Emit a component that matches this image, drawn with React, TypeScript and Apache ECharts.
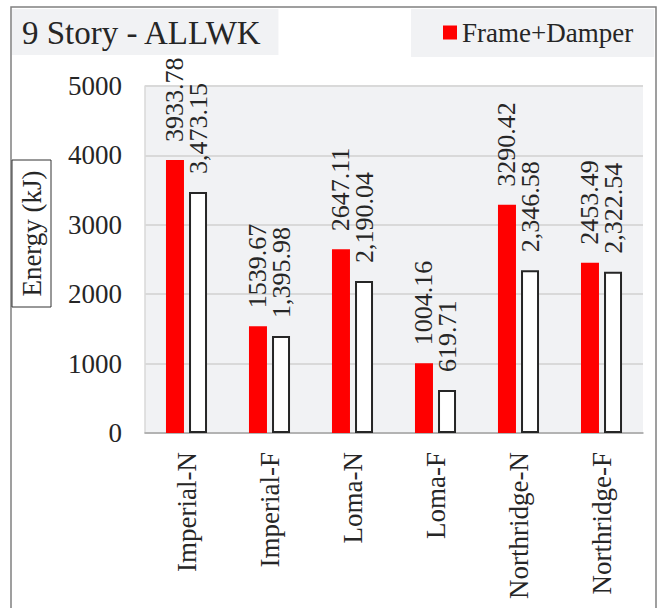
import React, { useEffect, useRef } from "react";
import * as echarts from "echarts";

const categories = ["Imperial-N", "Imperial-F", "Loma-N", "Loma-F", "Northridge-N", "Northridge-F"];
const frameDamper = [3933.78, 1539.67, 2647.11, 1004.16, 3290.42, 2453.49];
const frameOnly = [3473.15, 1395.98, 2190.04, 619.71, 2346.58, 2322.54];
const yMin = 0;
const yMax = 5000;
const yStep = 1000;
const titleText = "9 Story - ALLWK";
const yAxisTitle = "Energy (kJ)";
const seriesNames = ["Frame+Damper", "Frame"];

const FONT = "Liberation Serif";
const TXT = "#262626";
const PANEL = "#f1f2f4";

export default function App() {
  const ref = useRef<HTMLDivElement>(null);
  useEffect(() => {
    if (!ref.current) return;
    const chart = echarts.init(ref.current, undefined, { renderer: "svg" });
    const fmtPlain = (v: number) => v.toFixed(2);
    const fmtComma = (v: number) =>
      v.toLocaleString("en-US", { minimumFractionDigits: 2, maximumFractionDigits: 2 });
    const barLabel = (fmt: (v: number) => string) => ({
      show: true,
      position: "top",
      distance: 18,
      rotate: 90,
      align: "left",
      verticalAlign: "middle",
      fontFamily: FONT,
      fontSize: 26,
      fontWeight: "normal",
      color: TXT,
      formatter: (p: any) => "{s|" + fmt(p.value) + "}",
      rich: {
        s: { fontFamily: FONT, fontSize: 26, color: TXT, fontWeight: "normal" },
      },
    });
    chart.setOption({
      animation: false,
      backgroundColor: "#ffffff",
      textStyle: { fontFamily: FONT, color: TXT },
      title: {
        text: titleText,
        left: 12,
        top: 9,
        backgroundColor: PANEL,
        padding: [7, 16, 6, 10],
        textStyle: { fontFamily: FONT, fontSize: 33, fontWeight: "normal", color: TXT, lineHeight: 33 },
      },
      legend: {
        data: [seriesNames[0]],
        left: 411,
        top: 9,
        width: 245,
        backgroundColor: PANEL,
        padding: [10, 21, 11, 32],
        itemWidth: 14,
        itemHeight: 14,
        itemGap: 6,
        icon: "rect",
        textStyle: { fontFamily: FONT, fontSize: 27, color: TXT, lineHeight: 27 },
      },
      grid: {
        left: 145,
        right: 16,
        top: 86,
        bottom: 175,
        show: true,
        backgroundColor: PANEL,
        borderWidth: 0,
      },
      xAxis: {
        type: "category",
        data: categories,
        axisLine: { show: true, lineStyle: { color: "#a6a6a6", width: 1.5 } },
        axisTick: { show: false },
        axisLabel: {
          rotate: 90,
          margin: 19,
          fontFamily: FONT,
          fontSize: 27,
          color: TXT,
          interval: 0,
        },
      },
      yAxis: {
        type: "value",
        min: yMin,
        max: yMax,
        interval: yStep,
        axisLine: { show: true, lineStyle: { color: "#d9d9d9", width: 1.5 } },
        axisTick: { show: false },
        splitLine: { show: true, lineStyle: { color: "#d9d9d9", width: 2 } },
        axisLabel: {
          margin: 23,
          fontFamily: FONT,
          fontSize: 27,
          color: TXT,
          formatter: (v: number) => String(v),
        },
      },
      series: [
        {
          name: seriesNames[0],
          type: "bar",
          data: frameDamper,
          barWidth: 18,
          itemStyle: { color: "#ff0000" },
          label: barLabel(fmtPlain),
        },
        {
          name: seriesNames[1],
          type: "bar",
          data: frameOnly,
          barWidth: 18,
          barGap: "28%",
          itemStyle: { color: "#ffffff", borderColor: "#262626", borderWidth: 2 },
          label: barLabel(fmtComma),
        },
      ],
      graphic: [
        {
          type: "rect",
          shape: { x: 11, y: 7, width: 645, height: 640 },
          style: { fill: "none", stroke: "#808080", lineWidth: 1.5 },
          silent: true,
          z: 100,
        },
        {
          type: "rect",
          shape: { x: 12, y: 160, width: 39, height: 147 },
          style: { fill: "#ffffff", stroke: "#333333", lineWidth: 1 },
          z: 101,
        },
        {
          type: "text",
          x: 32,
          y: 233.5,
          rotation: Math.PI / 2,
          style: {
            text: yAxisTitle,
            fontFamily: FONT,
            fontSize: 27,
            fill: TXT,
            align: "center",
            verticalAlign: "middle",
          },
          z: 102,
        },
      ],
    });
    return () => chart.dispose();
  }, []);
  return (
    <div
      ref={ref}
      style={{ position: "fixed", left: 0, top: 0, width: 659, height: 608, background: "#fff" }}
    />
  );
}
